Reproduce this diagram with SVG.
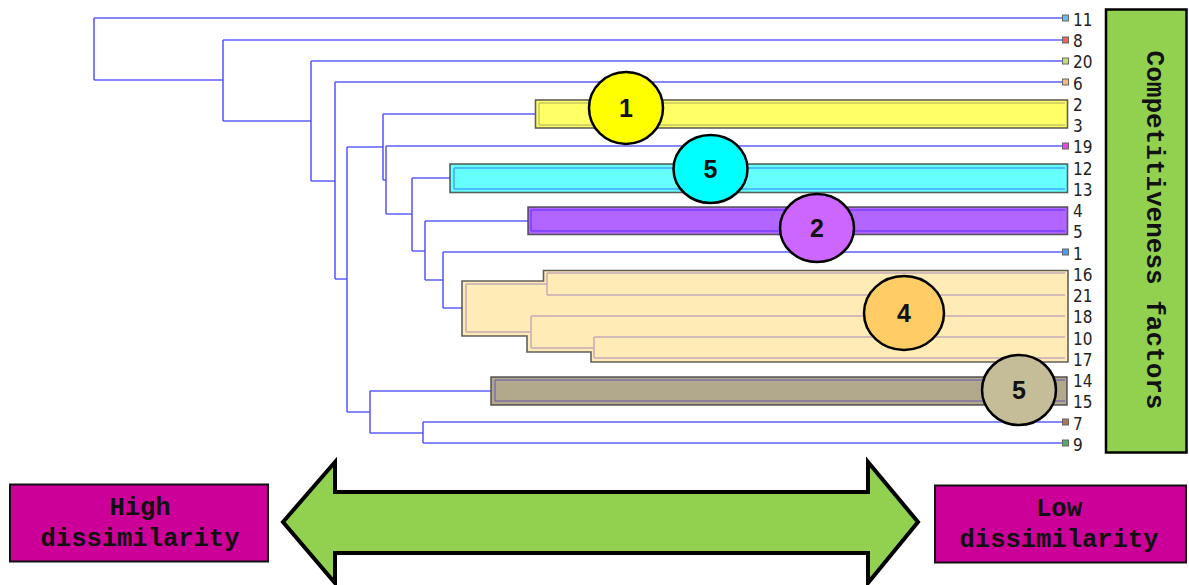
<svg xmlns="http://www.w3.org/2000/svg" width="1189" height="585" viewBox="0 0 1189 585">
<style>
.dl{stroke:#4c4cff;stroke-width:1.6;fill:none;stroke-opacity:0.9}
.box{stroke:#444;stroke-width:1.6;stroke-opacity:0.85}
.in{fill:none;stroke-width:1.5}
.mk{stroke:#666;stroke-width:1}
.lb{font-family:"DejaVu Sans Condensed","DejaVu Sans",sans-serif;font-size:17px;fill:#222}
.cc{stroke:#000;stroke-width:2.5}
.cn{font-family:"Liberation Sans",Arial,sans-serif;font-weight:bold;font-size:25px;fill:#111;text-anchor:middle}
.mono{font-family:"Liberation Mono","Courier New",monospace;font-weight:bold;fill:#111;text-anchor:middle}
</style>
<rect width="1189" height="585" fill="#fff"/>
<g id="connectors">
<path class="dl" d="M94,18V80M223,40V121M311,61V181M335,82V279M347,147V412M383,114V180M386,146V214M412,178V251M425,221V280M443,252V308M370,391V433M423,422V443"/>
<path class="dl" d="M94,80H223M223,121H311M311,181H335M335,279H347M347,147H383M383,180H386M386,214H412M412,251H425M425,280H443M347,412H370M370,433H423"/>
<path class="dl" d="M94,18H1063M223,40H1063M311,61H1063M335,82H1063M383,114H535M386,146H1063M412,178H450M425,221H528M443,252H1063M443,308H462M370,391H491M423,422H1063M423,443H1063"/>
</g>
<g id="cluster-2-3">
<rect class="box" x="535.5" y="100" width="532" height="28" fill="#ffff66"/>
<path class="in" stroke="#c8c860" d="M539,103V125M539,103H1065M539,125H1065"/>
</g>
<g id="cluster-12-13">
<rect class="box" x="450" y="164" width="617.5" height="28.5" fill="#66ffff"/>
<path class="in" stroke="#3fa9ff" d="M454,168V189M454,168H1065M454,189H1065"/>
</g>
<g id="cluster-4-5">
<rect class="box" x="528" y="207" width="539.5" height="27.5" fill="#b266ff"/>
<path class="in" stroke="#7a3dff" d="M531,210V231M531,210H1065M531,231H1065"/>
</g>
<g id="cluster-16-21-18-10-17">
<path class="box" fill="#ffebb5" d="M462,281H543.5V270.5H1068V362H591V352H527V336H462Z"/>
<path class="in" stroke="#c4aab8" d="M466,284V332M466,284H547M547,273V295M547,273H1065M547,295H1065M466,332H531M531,316V348M531,316H1065M531,348H594M594,337V358M594,337H1065M594,358H1065"/>
</g>
<g id="cluster-14-15">
<rect class="box" x="491" y="377" width="576" height="28" fill="#b2a88c"/>
<path class="in" stroke="#8070a8" d="M495,380V401M495,380H1065M495,401H1065"/>
</g>
<g id="leaves">
<rect class="mk" x="1062.5" y="15" width="6" height="6" fill="#6cbcea"/>
<rect class="mk" x="1062.5" y="37" width="6" height="6" fill="#ee6655"/>
<rect class="mk" x="1062.5" y="58" width="6" height="6" fill="#bde07a"/>
<rect class="mk" x="1062.5" y="79" width="6" height="6" fill="#f2bb77"/>
<rect class="mk" x="1062.5" y="143" width="6" height="6" fill="#ee44ee"/>
<rect class="mk" x="1062.5" y="249" width="6" height="6" fill="#4a9cf0"/>
<rect class="mk" x="1062.5" y="419" width="6" height="6" fill="#aa7755"/>
<rect class="mk" x="1062.5" y="440" width="6" height="6" fill="#55aa66"/>
<text class="lb" x="1073" y="25.5">11</text>
<text class="lb" x="1073" y="47">8</text>
<text class="lb" x="1073" y="68">20</text>
<text class="lb" x="1073" y="89.5">6</text>
<text class="lb" x="1073" y="110.5">2</text>
<text class="lb" x="1073" y="132">3</text>
<text class="lb" x="1073" y="153">19</text>
<text class="lb" x="1073" y="174.5">12</text>
<text class="lb" x="1073" y="196">13</text>
<text class="lb" x="1073" y="217">4</text>
<text class="lb" x="1073" y="238">5</text>
<text class="lb" x="1073" y="259.5">1</text>
<text class="lb" x="1073" y="280.5">16</text>
<text class="lb" x="1073" y="302">21</text>
<text class="lb" x="1073" y="323">18</text>
<text class="lb" x="1073" y="344.5">10</text>
<text class="lb" x="1073" y="365.5">17</text>
<text class="lb" x="1073" y="387">14</text>
<text class="lb" x="1073" y="408">15</text>
<text class="lb" x="1073" y="429.5">7</text>
<text class="lb" x="1073" y="450.5">9</text>
</g>
<g id="badge-1">
<ellipse class="cc" cx="626" cy="108" rx="37" ry="36" fill="#ffff00"/>
<text class="cn" x="626" y="117">1</text>
</g>
<g id="badge-5a">
<ellipse class="cc" cx="710.5" cy="169" rx="37" ry="34" fill="#00ffff"/>
<text class="cn" x="710.5" y="178">5</text>
</g>
<g id="badge-2">
<ellipse class="cc" cx="817" cy="228" rx="37" ry="34" fill="#cc66ff"/>
<text class="cn" x="817" y="237">2</text>
</g>
<g id="badge-4">
<ellipse class="cc" cx="904" cy="313" rx="40" ry="37" fill="#ffcc66"/>
<text class="cn" x="904" y="322">4</text>
</g>
<g id="badge-5b">
<ellipse class="cc" cx="1019" cy="390" rx="37" ry="35" fill="#c4bd97"/>
<text class="cn" x="1019" y="399">5</text>
</g>
<g id="competitiveness">
<rect x="1106" y="9.5" width="80.5" height="443" fill="#92d050" stroke="#000" stroke-width="2.5"/>
<text class="mono" font-size="26" transform="translate(1147,230) rotate(90)">Competitiveness factors</text>
</g>
<g id="arrow">
<polygon points="283,522 335,462 335,492 868,492 868,462 918,522 868,583 868,553 335,553 335,583" fill="#92d050" stroke="#000" stroke-width="4" stroke-linejoin="miter"/>
</g>
<g id="high">
<rect x="10" y="484.5" width="258" height="77" fill="#cc0099" stroke="#111" stroke-width="2"/>
<text class="mono" font-size="25.5" x="140" y="515">High</text>
<text class="mono" font-size="25.5" x="140" y="546">dissimilarity</text>
</g>
<g id="low">
<rect x="935" y="485.5" width="251" height="77" fill="#cc0099" stroke="#111" stroke-width="2"/>
<text class="mono" font-size="25.5" x="1059" y="516">Low</text>
<text class="mono" font-size="25.5" x="1059" y="547">dissimilarity</text>
</g>
</svg>
